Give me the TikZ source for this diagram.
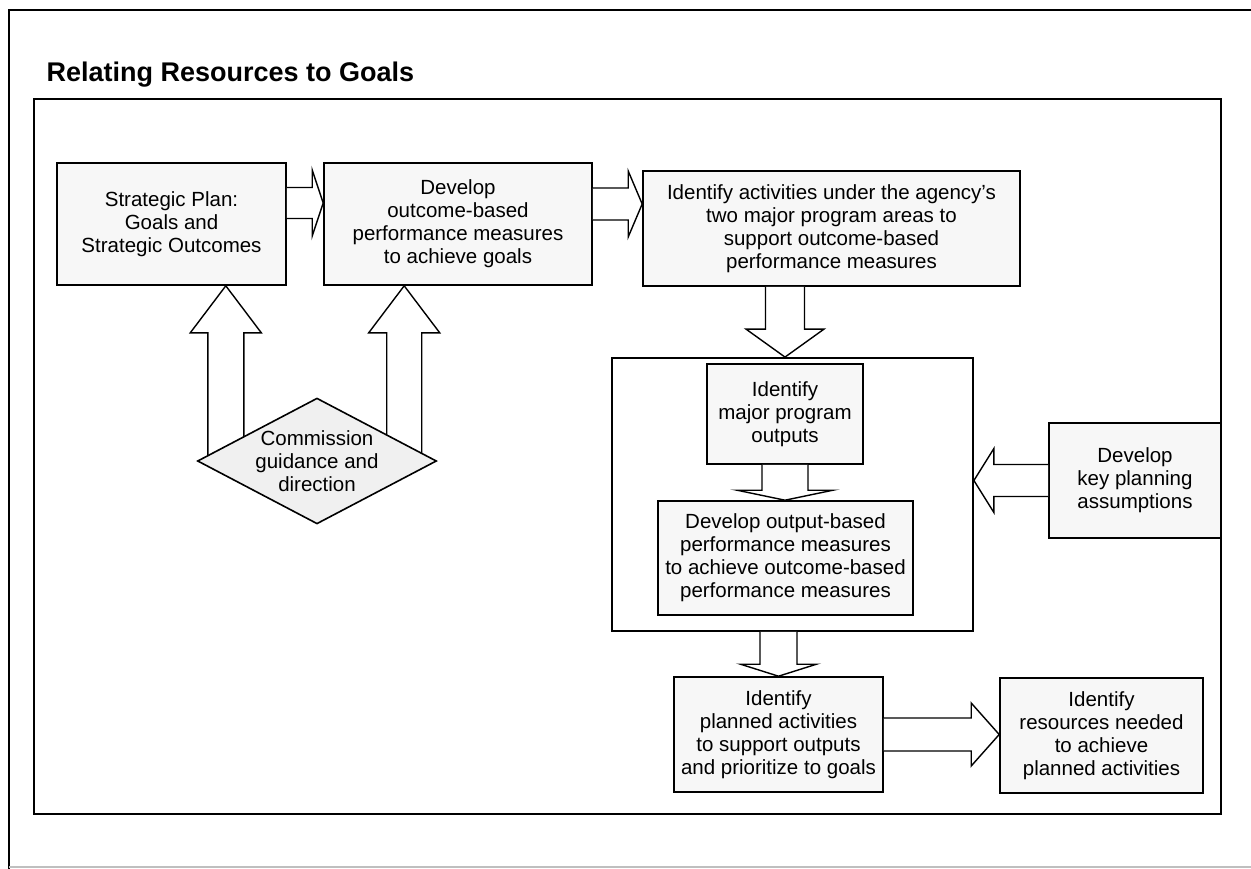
\documentclass[tikz,border=0pt]{standalone}
\usepackage{fontspec}
\setmainfont{Liberation Sans}
\usepackage{tikz}
\usetikzlibrary{calc, shapes.geometric, backgrounds}

\tikzset{
  stepbox/.style={draw, line width=1.6pt, fill=black!3, align=center, inner sep=0pt,
    font=\fontsize{20.5}{23}\selectfont},
  blockarrow/.style={draw, line width=1.4pt, fill=white, line join=miter},
}
% block arrows: start, tip, shaft half width, head half width, head length (signed)
\newcommand\harrow[5]{%
  \draw[blockarrow] ($(#1)+(0,-#3)$) -- ($(#2)+({0-(#5)},-#3)$) -- ($(#2)+({0-(#5)},-#4)$) -- (#2)
    -- ($(#2)+({0-(#5)},#4)$) -- ($(#2)+({0-(#5)},#3)$) -- ($(#1)+(0,#3)$);}
\newcommand\varrow[5]{%
  \draw[blockarrow] ($(#1)+(-#3,0)$) -- ($(#2)+(-#3,{0-(#5)})$) -- ($(#2)+(-#4,{0-(#5)})$) -- (#2)
    -- ($(#2)+(#4,{0-(#5)})$) -- ($(#2)+(#3,{0-(#5)})$) -- ($(#1)+(#3,0)$);}

\begin{document}
\begin{tikzpicture}[x=1pt, y=-1pt]
	\useasboundingbox (0,0) rectangle (1251,869);
	\draw[line width=2.5pt] (9,869) -- (9,10) -- (1251,10);
	\draw[black!25, line width=1.5pt] (9,867) -- (1251,867);
	\node[anchor=base west, font=\fontsize{27}{30}\selectfont\bfseries] (title) at (43,82) {Relating Resources to Goals};
	\draw[line width=1.8pt] (34,99) rectangle (1221,814);

	\node[stepbox, minimum width=229pt, minimum height=122pt] (strat) at (171.5,224) {Strategic Plan:\\Goals and\\Strategic Outcomes};
	\node[stepbox, minimum width=268pt, minimum height=122pt] (devel) at (458,224) {Develop\\outcome-based\\performance measures\\to achieve goals};
	\node[stepbox, minimum width=377pt, minimum height=115pt] (activ) at (831.5,228.5) {Identify activities under the agency's\\two major program areas to\\support outcome-based\\performance measures};
	\node[draw, line width=1.8pt, fill=white, minimum width=361pt, minimum height=273pt] (prog) at (792.5,494.5) {};
	\node[stepbox, minimum width=156pt, minimum height=100pt] (major) at (785,414) {Identify\\major program\\outputs};
	\node[stepbox, minimum width=255pt, minimum height=114pt] (outp) at (785.5,558) {Develop output-based\\performance measures\\to achieve outcome-based\\performance measures};
	\node[stepbox, minimum width=172pt, minimum height=115pt] (keyplan) at (1135,480.5) {Develop\\key planning\\assumptions};
	\node[stepbox, minimum width=209pt, minimum height=115pt] (planned) at (778.5,734.5) {Identify\\planned activities\\to support outputs\\and prioritize to goals};
	\node[stepbox, minimum width=203pt, minimum height=115pt] (resrc) at (1101.5,735.5) {Identify\\resources needed\\to achieve\\planned activities};
	\node[draw, line width=1.6pt, fill=black!6, diamond, aspect=1.9, inner sep=0pt, align=center,
		font=\fontsize{20.5}{23}\selectfont] (comm) at (317,461) {Commission\\guidance and\\direction};

	\coordinate (a1s) at ($(strat.east)+(0,-21)$);
	\coordinate (a1t) at (a1s -| devel.west);
	\coordinate (a2s) at ($(devel.east)+(0,-20)$);
	\coordinate (a2t) at (a2s -| activ.west);
	\coordinate (a3t) at (major.north |- prog.north);
	\coordinate (a3s) at (a3t |- activ.south);
	\coordinate (a4t) at (major.south |- outp.north);
	\coordinate (a5t) at (keyplan.west -| prog.east);
	\coordinate (a6s) at (planned.north |- prog.south);
	\coordinate (a7t) at (planned.east -| resrc.west);
	\coordinate (a8t) at ($(strat.south east)+(-61,0)$);
	\coordinate (a8s) at (a8t |- comm.center);
	\coordinate (a9t) at ($(devel.south west)+(81,0)$);
	\coordinate (a9s) at (a9t |- comm.center);

	\harrow{a1s}{a1t}{15.5}{33}{11}
	\harrow{a2s}{a2t}{16}{33}{14}
	\varrow{a3s}{a3t}{19.5}{39}{28}
	\varrow{major.south}{a4t}{23}{48}{10}
	\harrow{keyplan.west}{a5t}{16}{32}{-20}
	\varrow{a6s}{planned.north}{18.5}{38}{12}
	\harrow{planned.east}{a7t}{16.5}{31.5}{28}
	\begin{scope}[on background layer]
		\varrow{a8s}{a8t}{18}{35.5}{-47}
		\varrow{a9s}{a9t}{17.5}{35.5}{-47}
	\end{scope}
\end{tikzpicture}
\end{document}
